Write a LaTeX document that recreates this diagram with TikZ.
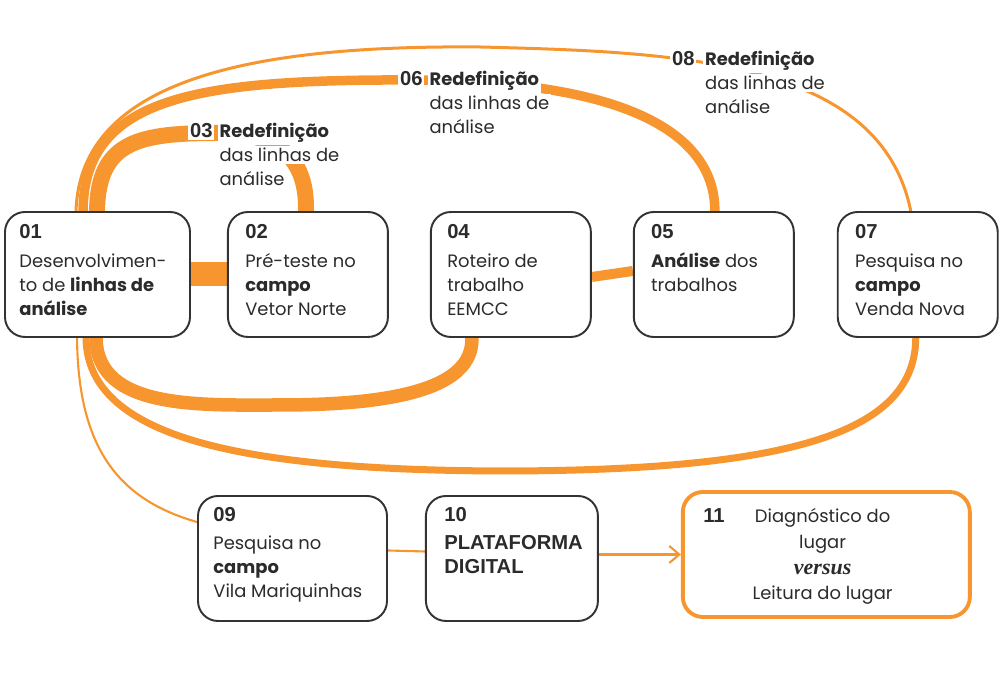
\documentclass[tikz,border=0pt]{standalone}
\usepackage{fontspec}
\setmainfont{Poppins}
\newfontfamily\numfont{Liberation Sans}
\newfontfamily\versusfont{Liberation Serif}
\usetikzlibrary{arrows.meta,positioning,backgrounds,calc}
\definecolor{Ink}{HTML}{2B2B2B}
\definecolor{Frame}{HTML}{333333}
\definecolor{Orange}{HTML}{F7952F}
\newcommand{\whitebg}[1]{{\setlength{\fboxsep}{1pt}\colorbox{white}{#1}}}
\newcommand{\stepnum}[1]{{\numfont\bfseries\fontsize{11.5}{13.6}\selectfont #1}}

\begin{document}
\begin{tikzpicture}[
  box/.style={rounded corners=0.4cm,draw=Frame,line width=1.1pt,fill=white,minimum width=3.2cm,minimum height=2.5cm},
  box2/.style={rounded corners=0.4cm,draw=Orange,line width=2.2pt,fill=white,minimum width=5.74cm,minimum height=2.5cm},
  txt/.style={anchor=north west,inner sep=0pt,align=left,text=Ink,font=\fontsize{10.2}{13.6}\selectfont},
  lbl/.style={anchor=base west,inner sep=0pt,text=Ink,font=\fontsize{10.2}{13.6}\selectfont},
  band/.style={draw=Orange},
  arrow/.style={-{Straight Barb[length=2mm,width=3.4mm]},draw=Orange,line width=1.2pt}
]
\useasboundingbox (0,0) rectangle (20,13.84);
% steps, first row
\node[box,minimum width=3.7cm] (s01) at (1.95,8.35) {};
\node[box,right=0.72cm of s01] (s02) {};
\node[box,right=0.82cm of s02] (s04) {};
\node[box,right=0.82cm of s04] (s05) {};
\node[box,right=0.84cm of s05] (s07) {};
% steps, second row
\node[box,minimum width=3.78cm] (s09) at (5.85,2.67) {};
\node[box,minimum width=3.44cm,right=0.74cm of s09] (s10) {};
\node[box2,right=1.64cm of s10,yshift=0.08cm] (s11) {};

\node[txt] (t01) at ([shift={(0.3,-0.26)}]s01.north west) {\stepnum{01}\\[3pt]Desenvolvimen-\\to de \textbf{linhas de}\\\textbf{análise}};
\node[txt] (t02) at ([shift={(0.36,-0.26)}]s02.north west) {\stepnum{02}\\[3pt]Pré-teste no\\\textbf{campo}\\Vetor Norte};
\node[txt] (t04) at ([shift={(0.34,-0.26)}]s04.north west) {\stepnum{04}\\[3pt]Roteiro de\\trabalho\\EEMCC};
\node[txt] (t05) at ([shift={(0.36,-0.26)}]s05.north west) {\stepnum{05}\\[3pt]\textbf{Análise} dos\\trabalhos};
\node[txt] (t07) at ([shift={(0.36,-0.26)}]s07.north west) {\stepnum{07}\\[3pt]Pesquisa no\\\textbf{campo}\\Venda Nova};
\node[txt] (t09) at ([shift={(0.32,-0.25)}]s09.north west) {\stepnum{09}\\[2pt]Pesquisa no\\\textbf{campo}\\Vila Mariquinhas};
\node[txt] (t10) at ([shift={(0.38,-0.25)}]s10.north west) {\stepnum{10}\\[2pt]\stepnum{PLATAFORMA}\\\stepnum{DIGITAL}};
\node[txt] (t11) at ([shift={(0.44,-0.28)}]s11.north west) {\renewcommand{\arraystretch}{1.08}\begin{tabular}[t]{@{}l@{\hspace{0.56cm}}c@{}}
  \stepnum{11} & Diagnóstico do\\ & lugar\\ & {\versusfont\bfseries\itshape\fontsize{12.5}{13.6}\selectfont versus}\\ & Leitura do lugar\end{tabular}};

% connectors
\begin{scope}[on background layer]
\draw[band,line width=0.48cm] (s01.east) -- (s02.west);
\draw[band,line width=0.2cm] ([yshift=-0.05cm]s04.east) -- ([yshift=0.07cm]s05.west);
\draw[band,line width=0.32cm] ([xshift=1.86cm]s01.north west) .. controls (1.96,11.04) and (2.8,11.18) .. (4.4,11.18)
  .. controls (5.8,11.18) and (6.14,10.44) .. ([xshift=1.58cm]s02.north west);
\draw[band,line width=0.19cm] ([xshift=1.58cm]s01.north west) .. controls (1.68,11.94) and (4.0,12.26) .. (8.4,12.24)
  .. controls (12.8,12.2) and (14.3,11.04) .. ([xshift=1.64cm]s05.north west);
\draw[band,line width=0.06cm] ([xshift=1.44cm]s01.north west) .. controls (1.6,12.24) and (5.0,12.94) .. (9.6,12.9)
  .. controls (13.6,12.8) and (17.6,12.64) .. ([xshift=1.48cm]s07.north west);
\draw[band,line width=0.27cm] ([xshift=1.84cm]s01.south west) .. controls (1.94,5.64) and (4.0,5.74) .. (5.6,5.74)
  .. controls (8.4,5.74) and (9.46,6.24) .. ([xshift=0.84cm]s04.south west);
\draw[band,line width=0.14cm] ([xshift=1.64cm]s01.south west) .. controls (1.74,5.04) and (5.0,4.44) .. (10.0,4.42)
  .. controls (16.0,4.42) and (18.3,5.24) .. ([xshift=1.58cm]s07.south west);
\draw[band,line width=1.2pt] ([xshift=1.46cm]s01.south west) .. controls (1.56,4.84) and (2.4,3.84) .. ([yshift=-0.54cm]s09.north west);
\draw[band,line width=1.2pt] ([yshift=0.16cm]s09.east) -- ([yshift=0.14cm]s10.west);
\end{scope}
\draw[arrow] (s11.west -| s10.east) -- (s11.west);

% loop labels
\node[lbl] (r03) at (3.76,11.08) {\begin{tabular}[t]{@{}l@{\hspace{2pt}}l@{}}
  \whitebg{\stepnum{03}} & \whitebg{\textbf{Redefinição}}\\ & \whitebg{das linhas de}\\ & \whitebg{análise}\end{tabular}};
\node[lbl] (r06) at (7.96,12.12) {\begin{tabular}[t]{@{}l@{\hspace{2pt}}l@{}}
  \whitebg{\stepnum{06}} & \whitebg{\textbf{Redefinição}}\\ & \whitebg{das linhas de}\\ & \whitebg{análise}\end{tabular}};
\node[lbl] (r08) at (13.4,12.52) {\begin{tabular}[t]{@{}l@{\hspace{4pt}}l@{}}
  \whitebg{\stepnum{08}} & \whitebg{\textbf{Redefinição}}\\ & \whitebg{das linhas de}\\ & \whitebg{análise}\end{tabular}};
\end{tikzpicture}
\end{document}
